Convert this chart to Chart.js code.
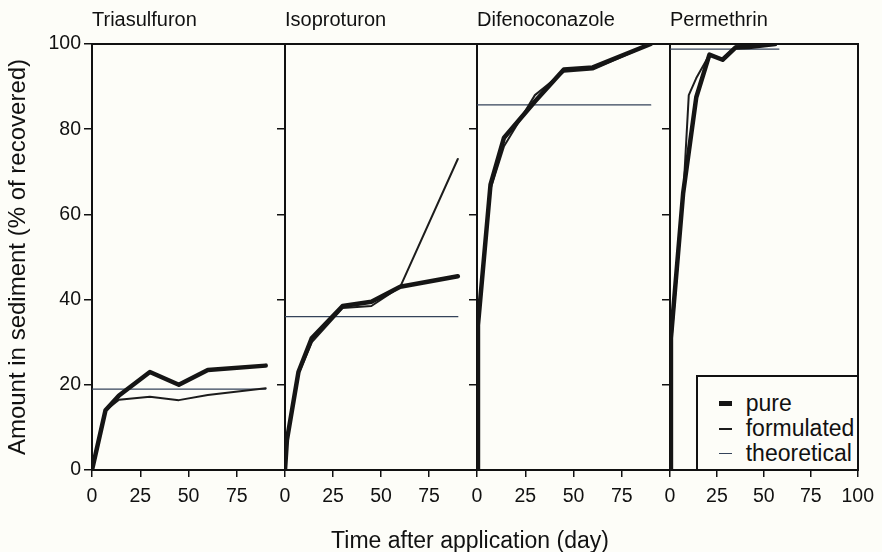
<!DOCTYPE html>
<html>
<head>
<meta charset="utf-8">
<script src="https://cdn.jsdelivr.net/npm/chart.js@4.4.1/dist/chart.umd.min.js"></script>
<style>
  body { margin: 0; background: #fdfdf8; }
  #fig { position: relative; width: 882px; height: 552px; overflow: hidden; color: #111;
         font-family: "Liberation Sans", Arial, sans-serif; }
  #fig canvas { position: absolute; top: 0; }
  #xtitle { position: absolute; left: 0; width: 940px; top: 525px; line-height: 30px; text-align: center; font-size: 23px; }
  #legend { position: absolute; border: 2px solid #111; background: #fdfdf8; box-sizing: border-box; padding: 14px 0 0 21px; }
  #legend .row { display: flex; align-items: center; height: 25px; font-size: 23px; }
  #legend .sw { display: inline-block; width: 13px; margin-right: 14px; }
</style>
</head>
<body>
<div id="fig">
  <canvas id="c0"></canvas>
  <canvas id="c1"></canvas>
  <canvas id="c2"></canvas>
  <canvas id="c3"></canvas>
  <div id="xtitle">Time after application (day)</div>
  <div id="legend"></div>
</div>
<script>
// data
const compounds = ['Triasulfuron', 'Isoproturon', 'Difenoconazole', 'Permethrin'];
const seriesLabels = ['pure', 'formulated', 'theoretical'];
const xTicks = [0, 25, 50, 75, 100];
const yTicks = [0, 20, 40, 60, 80, 100];

const triaDays = [0, 7, 14, 30, 45, 60, 90];
const triaPure = [0, 14, 17.5, 23, 20, 23.5, 24.5];
const triaFormulated = [0, 14, 16.5, 17.2, 16.4, 17.6, 19.2];
const triaTheoretical = 19;

const isoDays = [0, 1, 7, 14, 30, 45, 60, 90];
const isoPure = [0, 7, 23, 31, 38.5, 39.5, 43, 45.5];
const isoFormulated = [0, 7, 22.5, 30, 38, 38.5, 43, 73];
const isoTheoretical = 36;

const difDays = [0, 0.5, 7, 14, 30, 45, 60, 90];
const difPure = [0, 34, 67, 78, 86.5, 94, 94.5, 100];
const difFormulated = [0, 33, 66, 76, 88, 93.5, 94, 100];
const difTheoretical = 85.7;

const perDays = [0, 0.5, 7, 14, 21, 28, 35, 42, 56];
const perPure = [0, 31, 65, 87.5, 97.5, 96.3, 99.2, 99.3, 100];
const perFormDays = [0, 0.5, 7, 10, 14, 21, 28, 35, 42, 56];
const perFormulated = [0, 29, 64, 88, 92, 97.5, 96.5, 99.5, 99.5, 100];
const perTheoretical = 98.8;

const theoEnd = [90, 90, 90, 58];

const panels = [
  { days: triaDays, pure: triaPure, formDays: triaDays, form: triaFormulated, theo: triaTheoretical },
  { days: isoDays, pure: isoPure, formDays: isoDays, form: isoFormulated, theo: isoTheoretical },
  { days: difDays, pure: difPure, formDays: difDays, form: difFormulated, theo: difTheoretical },
  { days: perDays, pure: perPure, formDays: perFormDays, form: perFormulated, theo: perTheoretical }
];

// layout
const plotLeft = [92, 285, 477, 670];
const plotWidth = [193, 192, 193, 192];
const yAxisW = [92, 14, 14, 14];
const rightW = [0, 0, 0, 20];
const FIG_H = 552, PLOT_TOP = 44, PLOT_BOTTOM = 470;

const FONT = '"Liberation Sans", Arial, sans-serif';
const INK = '#111';
const lineStyles = [
  { borderColor: '#151515', borderWidth: 4.5 },
  { borderColor: '#1c1c1c', borderWidth: 2 },
  { borderColor: '#34435a', borderWidth: 1.3 }
];

const pts = (xs, ys) => xs.map((x, k) => ({ x: x, y: ys[k] }));

const charts = [];
panels.forEach((p, i) => {
  const last = i === panels.length - 1;
  const canvas = document.getElementById('c' + i);
  canvas.width = yAxisW[i] + plotWidth[i] + rightW[i];
  canvas.height = FIG_H;
  canvas.style.left = (plotLeft[i] - yAxisW[i]) + 'px';

  const seriesData = [
    pts(p.days, p.pure),
    pts(p.formDays, p.form),
    [{ x: 0, y: p.theo }, { x: theoEnd[i], y: p.theo }]
  ];

  const scales = {
    x: {
      type: 'linear', position: 'bottom', min: 0, max: 100,
      afterBuildTicks: s => { s.ticks = xTicks.filter(v => last || v < 100).map(v => ({ value: v })); },
      afterFit: s => { s.height = FIG_H - PLOT_BOTTOM; },
      ticks: { color: INK, padding: 8, maxRotation: 0, font: { family: FONT, size: 19.5 } },
      grid: { drawOnChartArea: false, tickLength: 7, color: INK, lineWidth: 1.5 },
      border: { color: INK, width: 2 }
    },
    xTop: {
      type: 'linear', position: 'top', min: 0, max: 100,
      afterFit: s => { s.height = PLOT_TOP; },
      ticks: { display: false },
      grid: { display: false },
      border: { color: INK, width: 2 },
      title: { display: true, text: compounds[i], align: 'start', color: INK,
               font: { family: FONT, size: 20 }, padding: { top: 8, bottom: 0 } }
    },
    y: {
      type: 'linear', position: 'left', min: 0, max: 100,
      afterBuildTicks: s => { s.ticks = yTicks.map(v => ({ value: v })); },
      afterFit: s => { s.width = yAxisW[i]; },
      ticks: { display: i === 0, color: INK, padding: 3, font: { family: FONT, size: 19.5 } },
      grid: { drawOnChartArea: false, tickLength: 8, color: INK, lineWidth: 1.5 },
      border: { color: INK, width: 2 },
      title: { display: i === 0, text: 'Amount in sediment (% of recovered)', color: INK,
               font: { family: FONT, size: 24 }, padding: { top: 4, bottom: 0 } }
    }
  };
  if (last) {
    scales.yRight = {
      type: 'linear', position: 'right', min: 0, max: 100,
      afterFit: s => { s.width = rightW[i]; },
      ticks: { display: false },
      grid: { display: false },
      border: { color: INK, width: 2 }
    };
  }

  charts.push(new Chart(canvas.getContext('2d'), {
    type: 'line',
    data: {
      datasets: seriesLabels.map((label, k) => Object.assign({
        label: label,
        data: seriesData[k],
        pointRadius: 0,
        tension: 0,
        fill: false,
        borderJoinStyle: 'round',
        borderCapStyle: 'round',
        xAxisID: 'x',
        yAxisID: 'y'
      }, lineStyles[k]))
    },
    options: {
      responsive: false,
      animation: false,
      events: [],
      layout: { padding: 0 },
      plugins: { legend: { display: false }, tooltip: { enabled: false } },
      scales: scales
    }
  }));
});

// legend box inside the last panel, built from that chart's datasets
const lastChart = charts[charts.length - 1];
const area = lastChart.chartArea;
const legendEl = document.getElementById('legend');
const canvasLeft = plotLeft[3] - yAxisW[3];
legendEl.style.left = (canvasLeft + area.right - 162) + 'px';
legendEl.style.top = '375px';
legendEl.style.width = '163px';
legendEl.style.height = (area.bottom - 375 + 1) + 'px';
lastChart.data.datasets.forEach(ds => {
  const row = document.createElement('div');
  row.className = 'row';
  const sw = document.createElement('span');
  sw.className = 'sw';
  sw.style.borderTop = (ds.borderWidth + 0.5) + 'px solid ' + ds.borderColor;
  row.appendChild(sw);
  row.appendChild(document.createTextNode(ds.label));
  legendEl.appendChild(row);
});
</script>
</body>
</html>
